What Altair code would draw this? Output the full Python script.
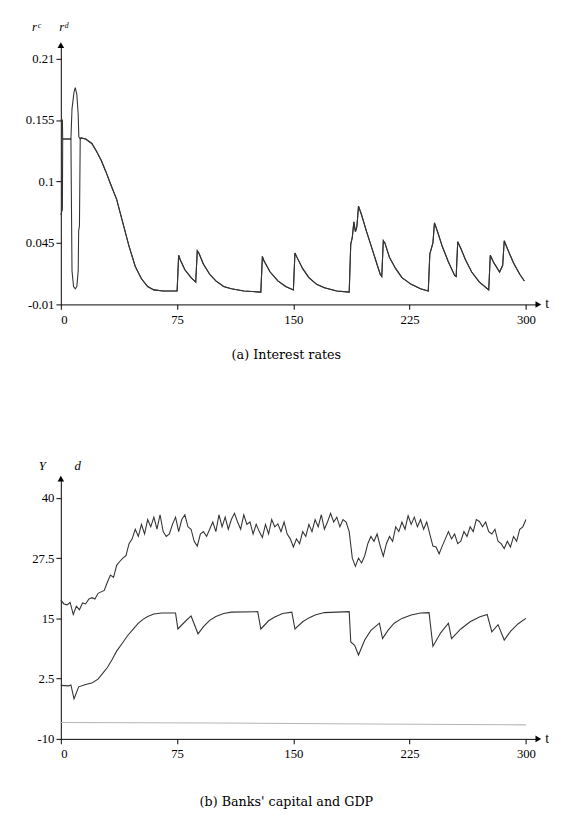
import altair as alt
import pandas as pd

FONT = "Liberation Serif"
CAP_FONT = "DejaVu Serif"
XMAX = 308
# ---------------- (a) Interest rates ----------------
R_YMIN, R_YMAX = -0.01, 0.222
T_EARLY_C = [0, 1.0, 1.2, 6.5, 7.2, 8.5, 9.3, 10.3, 11.2, 11.6, 12.5]
R_EARLY_C = [0.155, 0.155, 0.138, 0.138, 0.165, 0.18, 0.184, 0.178, 0.16, 0.14, 0.138]
T_EARLY_D = [0, 1.0, 1.2, 6.5, 7.2, 8.2, 9.3, 10.3, 11.2, 11.5, 12.0, 12.5]
R_EARLY_D = [0.07, 0.075, 0.138, 0.138, 0.02, 0.006, 0.004, 0.006, 0.02, 0.056, 0.06, 0.138]
T_COMMON = [13, 16, 20, 23, 26, 29, 32, 36, 40, 44, 48, 52, 56, 60, 66, 75, 76, 77, 80, 84,
            87, 88, 89, 92, 96, 100, 105, 110, 118, 129, 130, 131, 135, 140, 145, 150, 151,
            152, 156, 160, 165, 170, 178, 186, 187, 188, 189, 190, 191, 192, 194, 197, 200,
            203, 206, 207, 208, 209, 212, 216, 220, 226, 232, 237, 238, 240, 241, 243, 246,
            250, 254, 255, 256, 258, 261, 265, 270, 276, 277, 279, 283, 285, 286, 288, 292,
            296, 299]
R_COMMON = [0.139, 0.138, 0.134, 0.127, 0.119, 0.109, 0.098, 0.084, 0.063, 0.042, 0.024,
            0.013, 0.006, 0.003, 0.002, 0.002, 0.034, 0.030, 0.021, 0.014,
            0.010, 0.038, 0.036, 0.026, 0.017, 0.011, 0.006, 0.004, 0.002, 0.001, 0.033,
            0.029, 0.019, 0.011, 0.006, 0.003, 0.036,
            0.033, 0.022, 0.014, 0.008, 0.005, 0.002, 0.001, 0.044, 0.050, 0.064, 0.055,
            0.060, 0.078, 0.070, 0.056, 0.043,
            0.030, 0.017, 0.015, 0.047, 0.045, 0.032, 0.022, 0.014, 0.008, 0.004, 0.002,
            0.035, 0.045, 0.063, 0.055, 0.042,
            0.028, 0.016, 0.015, 0.046, 0.040, 0.030, 0.019, 0.010, 0.003, 0.034, 0.028,
            0.019, 0.025, 0.047, 0.040, 0.027,
            0.017, 0.011]
R_TICKS = [-0.01, 0.045, 0.1, 0.155, 0.21]
T_TICKS = [0, 75, 150, 225, 300]

# ---------------- (b) Banks' capital and GDP ----------------
B_YMIN, B_YMAX = -10, 44
Y_T = list(range(0, 301, 2))
Y_V = [18.8, 18.0, 17.8, 18.3, 15.8, 17.5, 16.8, 18.2, 18.0, 19.0, 19.3, 19.0, 20.2, 20.5,
       20.8, 22.5, 24.0, 23.5, 26.0, 26.8, 27.5, 28.0, 30.5, 31.5, 33.5, 32.0, 34.5, 32.5,
       35.5, 34.0, 36.0, 33.5, 36.5, 33.0, 32.0, 32.5, 34.5, 36.0, 33.0, 35.5, 36.5, 34.0,
       33.5, 31.0, 30.0, 32.5, 33.0, 32.0, 33.5, 35.0, 33.0, 36.5, 34.0, 36.0, 33.5, 35.5,
       36.8, 35.0, 33.5, 36.5, 34.5, 35.0, 32.5, 34.5, 33.0, 31.8, 34.5, 32.5, 35.5, 34.0,
       34.6, 33.0, 35.0, 32.5, 31.5, 29.8, 31.5, 30.5, 33.0, 32.0, 34.5, 33.0, 35.5, 34.0,
       36.5, 33.5, 35.0, 36.8, 35.0, 36.0, 34.0, 35.5, 35.0, 33.0, 27.5, 25.8, 27.5, 26.5,
       28.0, 30.5, 32.0, 31.0, 32.5, 30.0, 27.9, 30.5, 32.0, 31.0, 34.0, 33.0, 35.0, 33.5,
       36.3, 34.5, 36.0, 34.0, 35.5, 33.5, 35.0, 32.5, 30.0, 29.8, 28.4, 30.0, 31.5, 33.0,
       31.5, 32.5, 30.5, 31.0, 33.0, 32.0, 34.0, 33.0, 35.5, 35.1, 34.0, 35.0, 33.0, 32.5,
       33.5, 31.0, 30.5, 29.5, 31.0, 29.8, 32.0, 31.0, 33.5, 34.0, 35.5]
D_T = [0, 5, 6.5, 8.5, 11.5, 16, 20, 24, 27, 30, 33, 36, 40, 43, 46, 50, 53, 56, 60, 65, 74,
       75.5, 80, 84, 88.5, 92, 96, 100, 105, 110, 127, 129, 134, 138, 143, 149, 151, 156, 160,
       164, 170, 186, 187, 189.5, 192, 196, 200, 205.5, 207.5, 211, 215, 220, 226, 232, 237.5,
       240, 245, 250, 252, 258, 264, 270, 275, 278, 282, 286, 290, 295, 300]
D_V = [1.1, 1.0, 1.2, -1.7, 0.8, 1.3, 1.6, 2.4, 3.6, 4.8, 6.4, 8.2, 10.0, 11.4, 12.5, 14.0,
       14.8, 15.4, 15.9, 16.1, 16.1,
       12.8, 14.3, 15.5, 11.8, 13.3, 14.6, 15.4, 16.0, 16.3, 16.4, 12.8, 14.5, 15.3, 16.0,
       16.3, 12.8, 14.3, 15.1,
       15.7, 16.2, 16.4, 10.1, 9.4, 7.4, 10.5, 12.5, 14.0, 10.8, 12.5, 14.0, 15.0, 15.7,
       16.1, 16.2,
       9.2, 12.0, 14.0, 10.8, 12.8, 14.3, 15.3, 15.8, 12.2, 13.7, 10.5, 12.3, 13.9, 15.0]
G_T = [0, 100, 200, 300]
G_V = [-6.6, -6.7, -6.9, -7.1]
B_TICKS = [-10, 2.5, 15, 27.5, 40]

NB = "\u00a0"
LINE_COLOR = "#333333"
PLOT_W = 488


def x_axis(caption, pad):
    return alt.Axis(values=T_TICKS, labelExpr="'' + datum.value", title=caption,
                    titleFont=CAP_FONT, titleFontSize=13, titleFontWeight="normal",
                    titlePadding=pad, titleX=230, titleAlign="center", tickSize=5,
                    labelPadding=4)


def y_axis(values, label, tx, ty):
    return alt.Axis(values=values, labelExpr="'' + datum.value", title=label,
                    titleAngle=0, titleX=tx, titleY=ty, titleAlign="left",
                    titleBaseline="middle", titleFont=FONT, titleFontSize=13,
                    titleFontWeight="normal", titleFontStyle="italic", tickSize=5)


def arrows(ymin, ymax):
    right = alt.Chart(pd.DataFrame({"t": [XMAX], "v": [ymin]})).mark_point(
        shape="triangle-right", filled=True, size=45, color="black", opacity=1
    ).encode(x="t:Q", y="v:Q")
    up = alt.Chart(pd.DataFrame({"t": [0], "v": [ymax]})).mark_point(
        shape="triangle-up", filled=True, size=45, color="black", opacity=1
    ).encode(x="t:Q", y="v:Q")
    tlab = alt.Chart(pd.DataFrame({"t": [XMAX], "v": [ymin], "s": ["t"]})).mark_text(
        font=FONT, fontSize=14, align="left", baseline="middle", dx=7, color="black"
    ).encode(x="t:Q", y="v:Q", text="s:N")
    return right + up + tlab


# ---------- build top chart ----------
rows = []
for t, v in zip(T_EARLY_C + T_COMMON, R_EARLY_C + R_COMMON):
    rows.append({"t": t, "v": v, "s": "rc"})
for t, v in zip(T_EARLY_D + T_COMMON, R_EARLY_D + R_COMMON):
    rows.append({"t": t, "v": v, "s": "rd"})
df_r = pd.DataFrame(rows)

xs = alt.Scale(domain=[0, XMAX], nice=False, zero=False)
ys_r = alt.Scale(domain=[R_YMIN, R_YMAX], nice=False, zero=False)

top_line = alt.Chart(df_r).mark_line(strokeWidth=1.1, color=LINE_COLOR).encode(
    x=alt.X("t:Q", scale=xs, axis=x_axis("(a) Interest rates", 23)),
    y=alt.Y("v:Q", scale=ys_r,
            axis=y_axis(R_TICKS, "r\u1d9c" + NB * 6 + "r\u1d48", -30, -19)),
    detail="s:N",
)
top = alt.layer(top_line, arrows(R_YMIN, R_YMAX)).properties(width=PLOT_W, height=265)

# ---------- build bottom chart ----------
rows = []
for t, v in zip(Y_T, Y_V):
    rows.append({"t": t, "v": v, "s": "Y", "c": LINE_COLOR})
for t, v in zip(D_T, D_V):
    rows.append({"t": t, "v": v, "s": "d", "c": LINE_COLOR})
for t, v in zip(G_T, G_V):
    rows.append({"t": t, "v": v, "s": "g", "c": "#b5b5b5"})
df_b = pd.DataFrame(rows)

ys_b = alt.Scale(domain=[B_YMIN, B_YMAX], nice=False, zero=False)
bot_line = alt.Chart(df_b).mark_line(strokeWidth=1.1).encode(
    x=alt.X("t:Q", scale=xs, axis=x_axis("(b) Banks' capital and GDP", 36)),
    y=alt.Y("v:Q", scale=ys_b,
            axis=y_axis(B_TICKS, "Y" + NB * 9 + "d", -23, -13)),
    detail="s:N",
    color=alt.Color("c:N", scale=None),
)
bottom = alt.layer(bot_line, arrows(B_YMIN, B_YMAX)).properties(width=PLOT_W, height=266)

chart = alt.vconcat(top, bottom, spacing=101).properties(
    padding={"left": 17, "top": 4, "right": 5, "bottom": 5}
).configure_view(stroke=None).configure_axis(
    grid=False, domainColor="black", tickColor="black", labelColor="black",
    titleColor="black", labelFont=FONT, labelFontSize=13, domainWidth=1, tickWidth=1,
)

chart.save("out.html", embed_options={"renderer": "svg", "actions": False})
